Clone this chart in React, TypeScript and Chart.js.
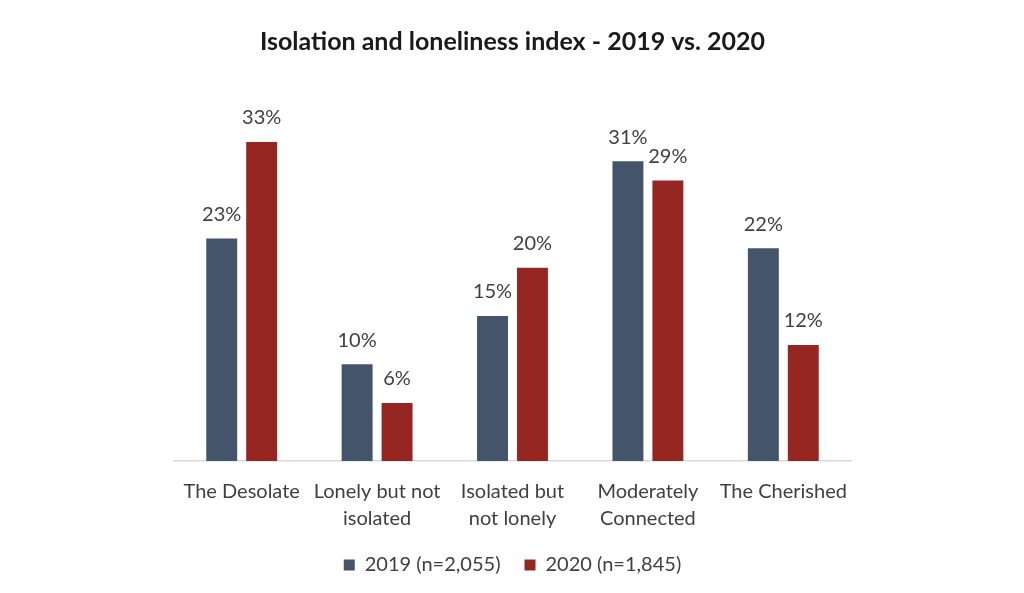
import React, { useEffect, useRef } from "react";
import { Chart, registerables } from "chart.js";

Chart.register(...registerables);

const categories: string[][] = [
  ["The Desolate"],
  ["Lonely but not", "isolated"],
  ["Isolated but", "not lonely"],
  ["Moderately", "Connected"],
  ["The Cherished"],
];
const values2019: number[] = [23, 10, 15, 31, 22];
const values2020: number[] = [33, 6, 20, 29, 12];
const seriesNames: string[] = ["2019 (n=2,055)", "2020 (n=1,845)"];
const titleText = "Isolation and loneliness index - 2019 vs. 2020";

const FONT = "Lato, 'Open Sans', sans-serif";

const dataLabels = {
  id: "dataLabels",
  afterDatasetsDraw(chart: any) {
    const ctx = chart.ctx;
    ctx.save();
    ctx.font = `20px ${FONT}`;
    ctx.fillStyle = "#404040";
    ctx.textAlign = "center";
    ctx.textBaseline = "middle";
    chart.data.datasets.forEach((ds: any, di: number) => {
      const meta = chart.getDatasetMeta(di);
      meta.data.forEach((bar: any, i: number) => {
        ctx.fillText(`${ds.data[i]}%`, bar.x, bar.y - 24);
      });
    });
    ctx.restore();
  },
};

export default function App() {
  const ref = useRef<HTMLCanvasElement | null>(null);
  useEffect(() => {
    if (!ref.current) return;
    const chart = new Chart(ref.current, {
      type: "bar",
      data: {
        labels: categories,
        datasets: [
          {
            label: seriesNames[0],
            data: values2019,
            backgroundColor: "#44546A",
          },
          {
            label: seriesNames[1],
            data: values2020,
            backgroundColor: "#962622",
          },
        ],
      },
      options: {
        animation: false,
        responsive: true,
        maintainAspectRatio: false,
        layout: { padding: { left: 174, right: 173, top: 0, bottom: 8 } },
        datasets: {
          bar: { barPercentage: 0.775, categoryPercentage: 0.59 },
        } as any,
        scales: {
          x: {
            grid: { display: false },
            border: { display: true, color: "#d9d9d9", width: 1.5 },
            ticks: {
              color: "#404040",
              font: { family: FONT, size: 20, lineHeight: 1.35 },
              padding: 9,
              maxRotation: 0,
              autoSkip: false,
            },
            afterFit(scale: any) {
              scale.height = 70;
            },
          },
          y: {
            display: false,
            min: 0,
            max: 35,
          },
        },
        plugins: {
          title: {
            display: true,
            text: titleText,
            color: "#1a1a1a",
            font: { family: FONT, size: 25, weight: "bold", lineHeight: 1.2 },
            padding: { top: 27, bottom: 65.6 },
          },
          legend: {
            position: "bottom",
            labels: {
              color: "#404040",
              font: { family: FONT, size: 20 },
              boxWidth: 11,
              boxHeight: 11,
              padding: 24,
            },
          },
          tooltip: { enabled: false },
        },
      },
      plugins: [dataLabels],
    });
    return () => chart.destroy();
  }, []);
  return (
    <div
      style={{
        position: "fixed",
        left: 0,
        top: 0,
        width: 1024,
        height: 593,
        background: "#ffffff",
      }}
    >
      <canvas ref={ref} />
    </div>
  );
}
